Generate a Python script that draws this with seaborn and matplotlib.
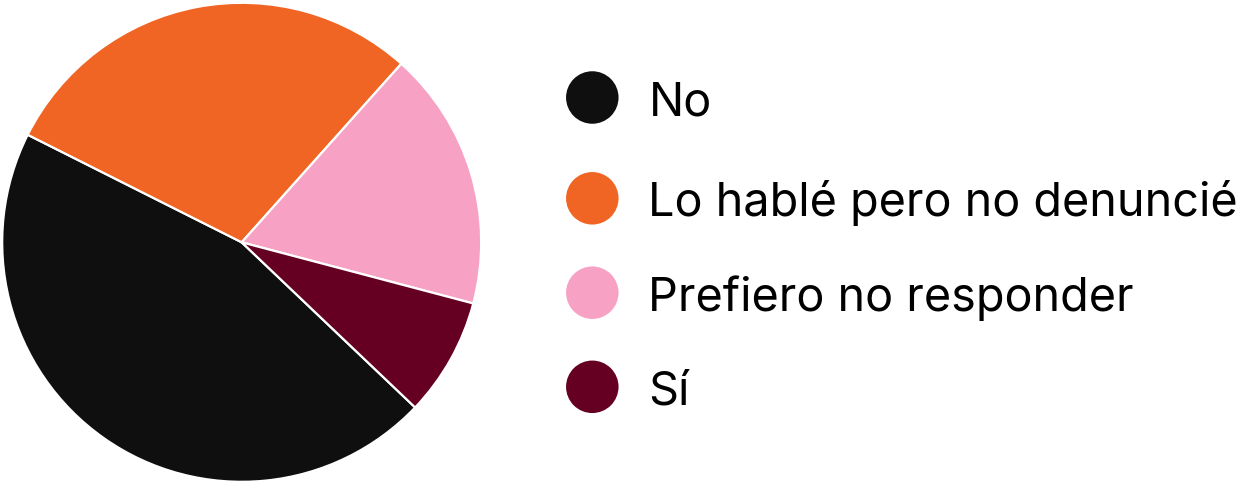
import numpy as np
import pandas as pd
import matplotlib
matplotlib.use('Agg')
import matplotlib.pyplot as plt
import seaborn as sns

# Chart data (share of answers)
labels = ['No', 'Lo hablé pero no denuncié', 'Prefiero no responder', 'Sí']
shares = [45.3, 29.2, 17.5, 8.0]
colors = ['#0f0f0f', '#f16524', '#f7a2c5', '#650022']

sns.set_theme(style='white')
plt.rcParams['font.family'] = ['Inter', 'DejaVu Sans']

W, H = 1236, 484
fig = plt.figure(figsize=(W / 100, H / 100), dpi=100)

# pie axes, placed in pixel terms
cx, cy, r = 241.7, 242.3, 239.5
ax = fig.add_axes([(cx - r) / W, (H - cy - r) / H, 2 * r / W, 2 * r / H])
ax.pie(shares, colors=colors, startangle=-43.6, counterclock=False,
       wedgeprops=dict(edgecolor='white', linewidth=1.6), radius=1)
ax.set_xlim(-1, 1)
ax.set_ylim(-1, 1)
ax.set_axis_off()

# legend drawn on an overlay axes in pixel coordinates
lax = fig.add_axes([0, 0, 1, 1])
lax.set_xlim(0, W)
lax.set_ylim(H, 0)
lax.set_axis_off()
rows_y = [97.5, 198.3, 292.7, 386.8]
leg = pd.DataFrame({'label': labels, 'x': 592.3, 'y': rows_y})
sns.scatterplot(data=leg, x='x', y='y', hue='label', palette=colors,
                s=(52.5 * 0.72) ** 2, linewidth=0, legend=False, ax=lax)
for lab, y in zip(labels, rows_y):
    lax.text(648.5, y + 18.0, lab, fontsize=33.7, color='black',
             ha='left', va='baseline')
lax.set_xlabel('')
lax.set_ylabel('')

fig.savefig('out.png', dpi=100)
